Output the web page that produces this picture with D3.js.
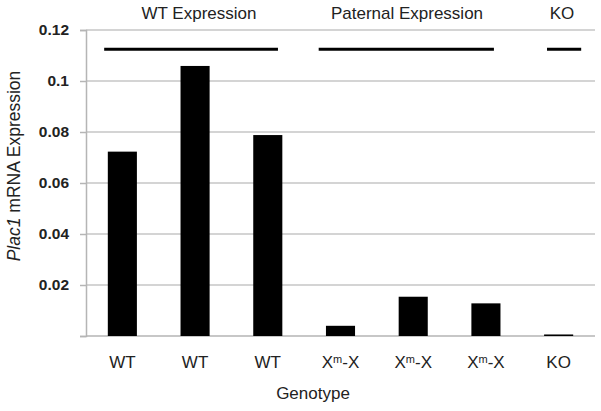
<!DOCTYPE html>
<html><head><meta charset="utf-8">
<script src="https://cdn.jsdelivr.net/npm/d3@7"></script>
<style>body{margin:0;background:#fff;} svg{display:block;font-family:Arial,"Liberation Sans",sans-serif;}</style>
</head><body>
<svg id="c" width="601" height="411"></svg>
<script>
const categories = ["WT","WT","WT","Xm-X","Xm-X","Xm-X","KO"];
const values = [0.0723,0.1059,0.0788,0.0040,0.0154,0.0128,0.0006];
const yTicks = [0.02,0.04,0.06,0.08,0.1,0.12];
const yTickLabels = ["0.02","0.04","0.06","0.08","0.1","0.12"];
const groupLabels = ["WT Expression","Paternal Expression","KO"];
const groupStart = [0.25,3.2,6.34];
const groupEnd = [2.64,5.61,6.81];
const groupLineValue = 0.1125;

const svg = d3.select("#c");
const L=86, R=595, T=30, B=336;
const x = d3.scaleBand().domain(d3.range(categories.length)).range([L,R]).paddingInner(0.6).paddingOuter(0.3);
const xp = d3.scaleLinear().domain([0,categories.length]).range([L,R]);
const y = d3.scaleLinear().domain([0,0.12]).range([B,T]);

// gridlines
svg.append("g").selectAll("line").data(yTicks).join("line")
  .attr("x1",L).attr("x2",R).attr("y1",d=>y(d)).attr("y2",d=>y(d))
  .attr("stroke","#c6c6c6").attr("stroke-width",1.5);

// y axis
const ya = svg.append("g").attr("transform",`translate(${L},0)`)
  .call(d3.axisLeft(y).tickValues([0].concat(yTicks)).tickSize(6).tickFormat((d,i)=> i===0?"":yTickLabels[i-1]));
ya.select(".domain").attr("stroke","#b5b5b5").attr("stroke-width",1.5);
ya.selectAll(".tick line").attr("stroke","#b5b5b5").attr("stroke-width",1.5);
ya.selectAll("text").attr("font-size",15.5).attr("font-weight","bold").attr("fill","#222")
  .attr("font-family","Arial,'Liberation Sans',sans-serif").attr("x",-17);
// baseline
svg.append("line").attr("x1",L).attr("x2",R).attr("y1",y(0)).attr("y2",y(0)).attr("stroke","#b5b5b5").attr("stroke-width",1.5);

// bars
svg.append("g").selectAll("rect").data(values).join("rect")
  .attr("x",(d,i)=>x(i)).attr("width",x.bandwidth())
  .attr("y",d=>y(d)).attr("height",d=>y(0)-y(d)).attr("fill","#000");

// group lines
svg.append("g").selectAll("line").data(groupLabels).join("line")
  .attr("x1",(d,i)=>xp(groupStart[i])).attr("x2",(d,i)=>xp(groupEnd[i]))
  .attr("y1",y(groupLineValue)).attr("y2",y(groupLineValue))
  .attr("stroke","#000").attr("stroke-width",3);
svg.append("g").selectAll("text").data(groupLabels).join("text")
  .attr("x",(d,i)=>i===0?199:(i===1?407:562)).attr("y",19)
  .attr("text-anchor","middle").attr("font-size",17).attr("fill","#222").text(d=>d);

// x labels
const xl = svg.append("g").selectAll("text").data(categories).join("text")
  .attr("x",(d,i)=>x(i)+x.bandwidth()/2).attr("y",368)
  .attr("text-anchor","middle").attr("font-size",17).attr("fill","#222");
xl.each(function(d){
  const t=d3.select(this);
  if(d==="Xm-X"){
    t.append("tspan").text("X");
    t.append("tspan").text("m").attr("font-size",11).attr("dy",-5);
    t.append("tspan").text("-X").attr("dy",5);
  } else t.text(d);
});

// axis titles
svg.append("text").attr("x",313).attr("y",399).attr("text-anchor","middle").attr("font-size",17).attr("fill","#222").text("Genotype");
const yt = svg.append("text").attr("transform","translate(20,166) rotate(-90)").attr("text-anchor","middle").attr("font-size",17.5).attr("fill","#222");
yt.append("tspan").attr("font-style","italic").text("Plac1");
yt.append("tspan").text(" mRNA Expression");
</script>
</body></html>
